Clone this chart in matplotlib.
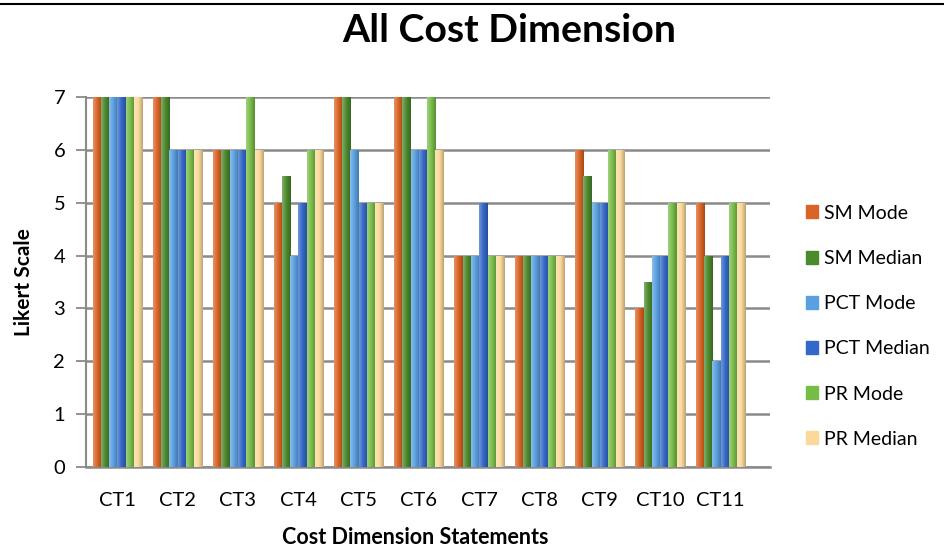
import numpy as np
import matplotlib
matplotlib.use("Agg")
import matplotlib.pyplot as plt
from matplotlib.colors import to_rgb, LinearSegmentedColormap
from matplotlib.lines import Line2D

# ---- data ----
categories = ["CT1", "CT2", "CT3", "CT4", "CT5", "CT6", "CT7", "CT8", "CT9", "CT10", "CT11"]
sm_mode = [7, 7, 6, 5, 7, 7, 4, 4, 6, 3, 5]
sm_median = [7, 7, 6, 5.5, 7, 7, 4, 4, 5.5, 3.5, 4]
pct_mode = [7, 6, 6, 4, 6, 6, 4, 4, 5, 4, 2]
pct_median = [7, 6, 6, 5, 5, 6, 5, 4, 5, 4, 4]
pr_mode = [7, 6, 7, 6, 5, 7, 4, 4, 6, 5, 5]
pr_median = [7, 6, 6, 6, 5, 6, 4, 4, 6, 5, 5]

series_names = ["SM Mode", "SM Median", "PCT Mode", "PCT Median", "PR Mode", "PR Median"]
series_values = [sm_mode, sm_median, pct_mode, pct_median, pr_mode, pr_median]
series_colors = ["#DA6425", "#4C8A2E", "#5AA0E0", "#3468C8", "#78BC48", "#FBD99B"]

plt.rcParams["font.family"] = ["Lato", "DejaVu Sans"]

fig = plt.figure(figsize=(9.44, 5.5), dpi=100)
ax = fig.add_axes([86 / 944, 1 - 467 / 550, 684 / 944, 370 / 550])

x = np.arange(len(categories))
bw = 0.137


def shade(c, f):
    r = np.array(to_rgb(c))
    if f >= 0:
        return tuple(r + (1 - r) * f)
    return tuple(r * (1 + f))


for j, (name, vals, col) in enumerate(zip(series_names, series_values, series_colors)):
    pos = x + (j - 2.5) * bw
    bars = ax.bar(pos, vals, width=bw, color=col, edgecolor="none", label=name, zorder=3)
    cmap = LinearSegmentedColormap.from_list(
        name, [shade(col, 0.3), col, shade(col, -0.25)])
    grad = np.linspace(0, 1, 64).reshape(1, -1)
    for b in bars:
        x0, w, h = b.get_x(), b.get_width(), b.get_height()
        im = ax.imshow(grad, cmap=cmap, aspect="auto", zorder=3.5,
                       extent=[x0, x0 + w, 0, h], interpolation="bilinear")
        im.set_clip_path(b)

ax.set_xlim(-0.52, 10.82)
ax.set_ylim(0, 7)
ax.set_yticks(range(0, 8))
ax.set_xticks(x)
ax.set_xticklabels(categories)

ax.grid(axis="y", color="#8A8A8A", linewidth=1.8, zorder=0)
ax.set_axisbelow(True)
for s in ["top", "right"]:
    ax.spines[s].set_visible(False)
ax.spines["left"].set_color("#8A8A8A")
ax.spines["left"].set_linewidth(1.5)
ax.spines["bottom"].set_color("#8A8A8A")
ax.spines["bottom"].set_linewidth(1.8)
ax.tick_params(axis="y", length=7, width=1.3, color="#8A8A8A", labelsize=14.5, pad=8)
ax.tick_params(axis="x", length=0, labelsize=14.5, pad=18)

ax.set_ylabel("Likert Scale", fontsize=15, fontweight="bold", labelpad=14)
ax.set_xlabel("Cost Dimension Statements", fontsize=15.5, fontweight="bold")
ax.xaxis.set_label_coords((415 - 86) / 684, -60 / 370)

fig.text(509 / 944, 1 - 31 / 550, "All Cost Dimension", ha="center", va="center",
         fontsize=28.3, fontweight="bold")

handles = [plt.Rectangle((0, 0), 1, 1, color=c) for c in series_colors]
fig.legend(handles, series_names, loc="upper left", bbox_to_anchor=(798 / 944, 1 - 197 / 550),
           frameon=False, fontsize=14, handlelength=0.65, handleheight=0.65,
           handletextpad=0.3, labelspacing=1.45, borderaxespad=0)

# rule across the page top
fig.add_artist(Line2D([0, 1], [1 - 4 / 550, 1 - 4 / 550], color="black", linewidth=1.5))

fig.savefig("out.png", dpi=100)
